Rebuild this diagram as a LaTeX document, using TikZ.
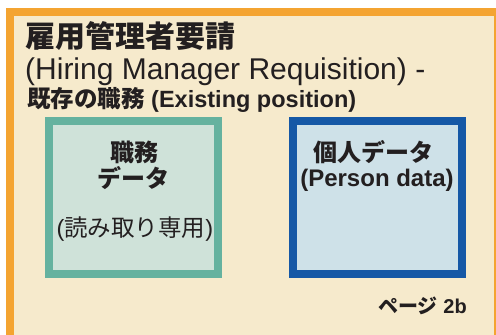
\documentclass[tikz,border=0pt]{standalone}
\usepackage{fontspec}
\setmainfont{Liberation Sans}
\newfontfamily\jp{Noto Sans CJK JP}
\usepackage{tikz}
\usetikzlibrary{positioning}
\definecolor{frameorange}{HTML}{F4A431}
\definecolor{cream}{HTML}{F6EACC}
\definecolor{jobgreen}{HTML}{65B29F}
\definecolor{jobfill}{HTML}{CFE2D9}
\definecolor{personblue}{HTML}{1558A6}
\definecolor{personfill}{HTML}{CEE1E8}
\definecolor{ink}{HTML}{231F20}

\begin{document}
\begin{tikzpicture}[x=1pt,y=-1pt,
  databox/.style={draw,line width=8pt,inner sep=0pt,minimum width=169pt,minimum height=153pt},
  lbl/.style={text=ink,inner sep=0pt,anchor=base},
  head/.style={lbl,anchor=base west}]
\useasboundingbox (0,0) rectangle (496,335);
\clip (0,0) rectangle (496,335);
% outer frame (runs off the right and bottom edge)
\draw[frameorange,fill=cream,line width=8pt] (9.5,12) rectangle (497.5,345);
% heading, three lines
\node[head,font=\fontsize{30}{35}\selectfont\bfseries] (title) at (25,47) {\jp 雇用管理者要請};
\node[head,font=\fontsize{30}{35}\selectfont] (titleen) at (25,79) {(Hiring Manager Requisition) -};
\node[head,font=\fontsize{23.5}{28}\selectfont\bfseries] (sub) at (27,107) {{\jp 既存の職務} (Existing position)};
% the two data boxes
\node[databox,draw=jobgreen,fill=jobfill] (job) at (133.5,197.5) {};
\node[databox,draw=personblue,fill=personfill] (person) at (377,197.5) {};
% job data labels
\node[lbl,font=\fontsize{24}{28}\selectfont\bfseries] (jobname) at (134,161) {\jp 職務};
\node[lbl,font=\fontsize{24}{28}\selectfont\bfseries] (jobdata) at (133,187) {\jp データ};
\node[lbl,font=\fontsize{23.5}{27}\selectfont] (readonly) at (135,236) {({\jp 読み取り専用})};
% person data labels
\node[lbl,font=\fontsize{24}{28}\selectfont\bfseries] (personname) at (373,161) {\jp 個人データ};
\node[lbl,font=\fontsize{24}{28}\selectfont\bfseries] (personen) at (377,186) {(Person data)};
% page reference
\node[lbl,anchor=base east,font=\fontsize{20}{23}\selectfont\bfseries] (page) at (467,313) {{\jp ページ} 2b};
\end{tikzpicture}
\end{document}
